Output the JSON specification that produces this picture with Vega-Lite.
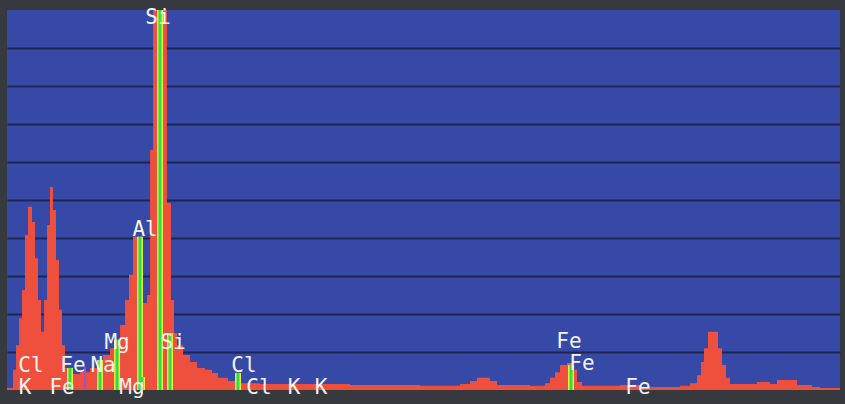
{
  "$schema": "https://vega.github.io/schema/vega-lite/v6.json",
  "width": 833,
  "height": 380,
  "autosize": {"type": "none"},
  "padding": {"left": 7, "top": 10, "right": 5, "bottom": 14},
  "background": "#363a3e",
  "view": {"fill": "#3649a6", "stroke": null},
  "config": {"axis": {"domain": false, "ticks": false, "labels": false, "title": null}},
  "datasets": {
    "spectrum": [
      {"keV": 0.045, "counts": 0.05},
      {"keV": 0.113, "counts": 0.53},
      {"keV": 0.147, "counts": 1.18},
      {"keV": 0.181, "counts": 1.89},
      {"keV": 0.214, "counts": 2.63},
      {"keV": 0.248, "counts": 4.08},
      {"keV": 0.282, "counts": 4.82},
      {"keV": 0.327, "counts": 4.42},
      {"keV": 0.361, "counts": 3.47},
      {"keV": 0.395, "counts": 2.37},
      {"keV": 0.429, "counts": 1.53},
      {"keV": 0.463, "counts": 2.37},
      {"keV": 0.497, "counts": 4.34},
      {"keV": 0.530, "counts": 5.34},
      {"keV": 0.564, "counts": 4.74},
      {"keV": 0.598, "counts": 3.42},
      {"keV": 0.632, "counts": 2.11},
      {"keV": 0.666, "counts": 1.18},
      {"keV": 0.700, "counts": 0.58},
      {"keV": 0.756, "counts": 0.42},
      {"keV": 0.869, "counts": 0.47},
      {"keV": 0.982, "counts": 0.58},
      {"keV": 1.061, "counts": 0.79},
      {"keV": 1.129, "counts": 0.92},
      {"keV": 1.208, "counts": 1.10},
      {"keV": 1.264, "counts": 1.32},
      {"keV": 1.321, "counts": 1.71},
      {"keV": 1.377, "counts": 2.37},
      {"keV": 1.422, "counts": 3.03},
      {"keV": 1.467, "counts": 4.03},
      {"keV": 1.580, "counts": 2.29},
      {"keV": 1.625, "counts": 2.50},
      {"keV": 1.660, "counts": 6.32},
      {"keV": 1.694, "counts": 10.0},
      {"keV": 1.850, "counts": 4.92},
      {"keV": 1.896, "counts": 2.37},
      {"keV": 1.930, "counts": 1.50},
      {"keV": 1.964, "counts": 1.18},
      {"keV": 2.032, "counts": 0.92},
      {"keV": 2.111, "counts": 0.74},
      {"keV": 2.190, "counts": 0.58},
      {"keV": 2.280, "counts": 0.53},
      {"keV": 2.359, "counts": 0.45},
      {"keV": 2.427, "counts": 0.32},
      {"keV": 2.540, "counts": 0.24},
      {"keV": 2.675, "counts": 0.18},
      {"keV": 2.901, "counts": 0.16},
      {"keV": 3.352, "counts": 0.16},
      {"keV": 3.916, "counts": 0.13},
      {"keV": 4.707, "counts": 0.11},
      {"keV": 5.158, "counts": 0.16},
      {"keV": 5.271, "counts": 0.24},
      {"keV": 5.350, "counts": 0.32},
      {"keV": 5.497, "counts": 0.24},
      {"keV": 5.576, "counts": 0.13},
      {"keV": 5.948, "counts": 0.11},
      {"keV": 6.117, "counts": 0.18},
      {"keV": 6.174, "counts": 0.32},
      {"keV": 6.230, "counts": 0.47},
      {"keV": 6.287, "counts": 0.66},
      {"keV": 6.366, "counts": 0.71},
      {"keV": 6.422, "counts": 0.53},
      {"keV": 6.479, "counts": 0.21},
      {"keV": 6.535, "counts": 0.11},
      {"keV": 6.964, "counts": 0.13},
      {"keV": 7.190, "counts": 0.08},
      {"keV": 7.641, "counts": 0.11},
      {"keV": 7.754, "counts": 0.18},
      {"keV": 7.833, "counts": 0.39},
      {"keV": 7.878, "counts": 0.74},
      {"keV": 7.912, "counts": 1.10},
      {"keV": 7.957, "counts": 1.53},
      {"keV": 8.070, "counts": 1.10},
      {"keV": 8.115, "counts": 0.66},
      {"keV": 8.160, "counts": 0.32},
      {"keV": 8.205, "counts": 0.16},
      {"keV": 8.510, "counts": 0.21},
      {"keV": 8.657, "counts": 0.16},
      {"keV": 8.736, "counts": 0.26},
      {"keV": 8.962, "counts": 0.13},
      {"keV": 9.131, "counts": 0.08},
      {"keV": 9.221, "counts": 0.05},
      {"keV": 9.447, "counts": 0.05}
    ],
    "markers": [
      {"keV": 0.756, "h": 0.58},
      {"keV": 1.095, "h": 0.79},
      {"keV": 1.287, "h": 1.32},
      {"keV": 1.546, "h": 4.03},
      {"keV": 1.569, "h": 0.34},
      {"keV": 1.772, "h": 10.0},
      {"keV": 1.885, "h": 1.5},
      {"keV": 2.652, "h": 0.45},
      {"keV": 6.411, "h": 0.66}
    ],
    "purple": [
      {"keV": 0.925, "h": 0.6}
    ],
    "labels": [
      {"keV": 1.749, "y": 9.79, "text": "Si"},
      {"keV": 1.603, "y": 4.21, "text": "Al"},
      {"keV": 1.287, "y": 1.24, "text": "Mg"},
      {"keV": 1.919, "y": 1.24, "text": "Si"},
      {"keV": 0.316, "y": 0.63, "text": "Cl"},
      {"keV": 0.790, "y": 0.63, "text": "Fe"},
      {"keV": 1.129, "y": 0.63, "text": "Na"},
      {"keV": 2.720, "y": 0.63, "text": "Cl"},
      {"keV": 6.388, "y": 1.26, "text": "Fe"},
      {"keV": 6.535, "y": 0.68, "text": "Fe"},
      {"keV": 0.248, "y": 0.05, "text": "K"},
      {"keV": 0.666, "y": 0.05, "text": "Fe"},
      {"keV": 1.456, "y": 0.05, "text": "Mg"},
      {"keV": 2.889, "y": 0.05, "text": "Cl"},
      {"keV": 3.284, "y": 0.05, "text": "K"},
      {"keV": 3.589, "y": 0.05, "text": "K"},
      {"keV": 7.167, "y": 0.05, "text": "Fe"}
    ]
  },
  "layer": [
    {
      "data": {"name": "spectrum"},
      "mark": {"type": "area", "interpolate": "step-after", "color": "#ef4f3d", "clip": true},
      "encoding": {
        "x": {"field": "keV", "type": "quantitative", "scale": {"domain": [0.045, 9.447], "nice": false, "zero": false}, "axis": null},
        "y": {"field": "counts", "type": "quantitative", "scale": {"domain": [0, 10], "nice": false},
              "axis": {"grid": true, "gridColor": "#1c2650", "gridWidth": 2, "values": [1, 2, 3, 4, 5, 6, 7, 8, 9], "labels": false, "ticks": false, "domain": false, "title": null}}
      }
    },
    {
      "data": {"name": "markers"},
      "mark": {"type": "rule", "color": "#e4ee3c", "strokeWidth": 6, "clip": true},
      "encoding": {
        "x": {"field": "keV", "type": "quantitative"},
        "y": {"field": "h", "type": "quantitative"},
        "y2": {"datum": 0}
      }
    },
    {
      "data": {"name": "markers"},
      "mark": {"type": "rule", "color": "#2fdc4c", "strokeWidth": 3, "clip": true},
      "encoding": {
        "x": {"field": "keV", "type": "quantitative"},
        "y": {"field": "h", "type": "quantitative"},
        "y2": {"datum": 0}
      }
    },
    {
      "data": {"name": "purple"},
      "mark": {"type": "rule", "color": "#9a55c8", "strokeWidth": 2, "clip": true},
      "encoding": {
        "x": {"field": "keV", "type": "quantitative"},
        "y": {"field": "h", "type": "quantitative"},
        "y2": {"datum": 0}
      }
    },
    {
      "data": {"name": "labels"},
      "mark": {"type": "text", "font": "DejaVu Sans Mono", "fontSize": 21, "color": "#f4f4f0", "align": "center", "baseline": "middle"},
      "encoding": {
        "x": {"field": "keV", "type": "quantitative"},
        "y": {"field": "y", "type": "quantitative"},
        "text": {"field": "text"}
      }
    }
  ]
}
